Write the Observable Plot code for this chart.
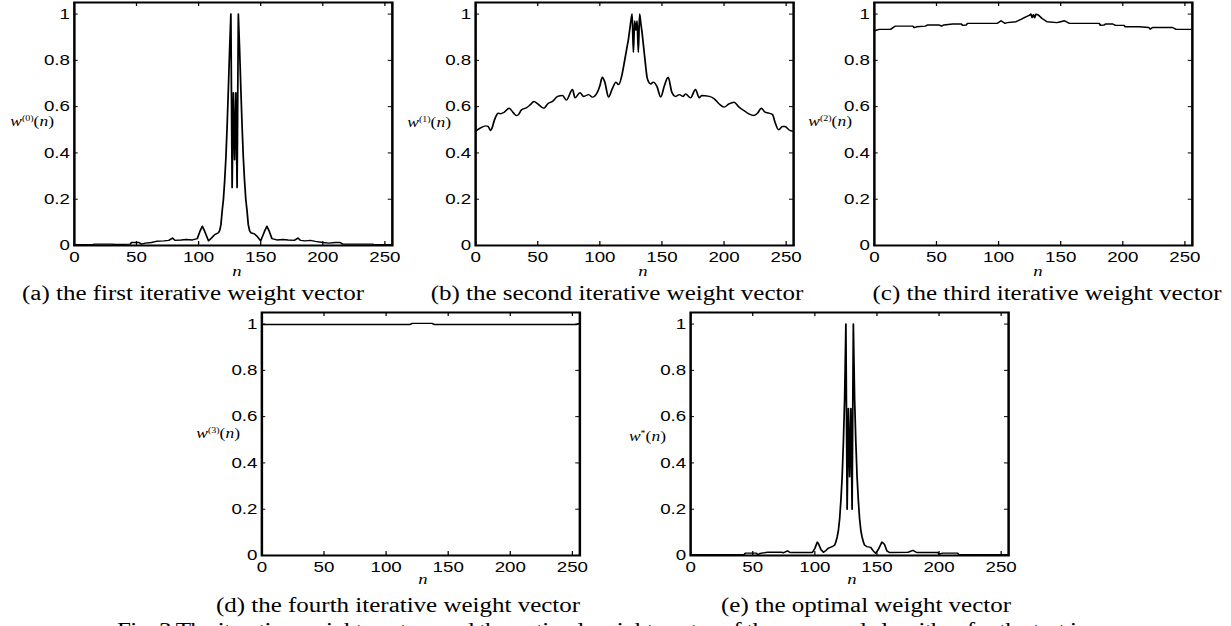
<!DOCTYPE html>
<html><head><meta charset="utf-8">
<script src="https://cdn.jsdelivr.net/npm/d3@7"></script>
<script src="https://cdn.jsdelivr.net/npm/@observablehq/plot@0.6"></script>
<style>
html,body{margin:0;padding:0;background:#fff;overflow:hidden;}
#page{position:relative;width:1231px;height:626px;overflow:hidden;background:#fff;}
#wrap{position:absolute;left:0;top:0;width:985px;height:626px;transform:scaleX(1.25);transform-origin:0 0;}
</style></head><body>
<div id="page"><div id="wrap"></div></div>
<script>
// ---- tick labels / domains ----
const nTicks = [0, 50, 100, 150, 200, 250];
const wTicks = [0, 0.2, 0.4, 0.6, 0.8, 1];
const nDomain = [0, 256];
const wDomain = [0, 1.05];

// ---- (a) w^(0)(n) ----
const a_n = [0,15,16,30,33,45,46,52,54,57,62,66,72,76,79,81,86,90,95,99,101,103,105,108,110,113,116,117,118,119,120,121,122,123,124,125,126,127,128,129,130,131,132,133,134,135,136,137,138,139,140,141,142,145,147,150,153,155,157,159,163,168,172,177,180,182,186,190,194,200,205,210,214,216,225,240,242,255];
const a_w = [0.003,0.003,0.006,0.006,0.004,0.006,0.013,0.013,0.006,0.01,0.013,0.018,0.02,0.022,0.032,0.022,0.024,0.026,0.024,0.03,0.06,0.083,0.06,0.02,0.03,0.047,0.055,0.065,0.09,0.15,0.2,0.28,0.38,0.52,0.68,0.85,1,0.25,0.66,0.37,0.66,0.25,1,0.85,0.68,0.52,0.38,0.28,0.2,0.15,0.09,0.065,0.055,0.05,0.04,0.02,0.06,0.083,0.06,0.03,0.024,0.026,0.024,0.022,0.032,0.022,0.02,0.022,0.018,0.013,0.01,0.013,0.013,0.006,0.006,0.006,0.003,0.003];

// ---- (b) w^(1)(n) ----
const b_n = [0,4,8,10,12,13,15,17,18,20,23,27,30,33,35,37,41,44,47,50,55,58,62,66,70,73,78,80,84,87,91,94,98,100,102,104,107,110,113,115,118,119,120,121,122,123,124,125,126,127,128,129,130,131,132,133,134,135,136,137,138,139,141,143,146,149,152,155,158,161,164,167,169,173,177,180,182,188,192,196,200,204,208,212,216,220,224,227,230,233,236,239,241,244,247,249,253,255];
const b_w = [0.494,0.508,0.517,0.515,0.497,0.504,0.54,0.565,0.572,0.569,0.576,0.593,0.576,0.561,0.569,0.587,0.595,0.608,0.622,0.612,0.593,0.612,0.623,0.644,0.648,0.628,0.674,0.638,0.66,0.644,0.652,0.641,0.662,0.69,0.727,0.706,0.641,0.677,0.706,0.695,0.742,0.77,0.8,0.83,0.86,0.89,0.93,0.97,1,0.835,0.97,0.93,0.97,0.835,1,0.96,0.92,0.87,0.82,0.77,0.727,0.71,0.698,0.706,0.687,0.641,0.691,0.727,0.662,0.644,0.652,0.644,0.655,0.638,0.674,0.638,0.648,0.644,0.634,0.612,0.598,0.612,0.619,0.598,0.583,0.569,0.562,0.572,0.593,0.576,0.572,0.566,0.533,0.5,0.514,0.514,0.497,0.494];

// ---- (c) w^(2)(n) ----
const c_n = [0,4,13,16,17,31,32,34,41,43,52,54,56,63,70,71,74,75,99,102,105,107,114,118,122,125,126,127,128,129,130,131,132,135,139,147,150,153,157,181,182,185,186,192,194,201,202,213,221,222,224,240,243,255];
const c_w = [0.928,0.934,0.934,0.945,0.948,0.948,0.941,0.945,0.948,0.953,0.953,0.948,0.953,0.957,0.957,0.951,0.953,0.96,0.96,0.971,0.96,0.963,0.967,0.977,0.988,0.995,1,0.985,0.997,0.984,0.999,0.998,0.996,0.981,0.967,0.963,0.967,0.971,0.96,0.96,0.951,0.953,0.957,0.957,0.951,0.951,0.945,0.945,0.942,0.935,0.942,0.942,0.934,0.934];

// ---- (d) w^(3)(n) ----
const d_n = [0,119,121,137,139,253,255];
const d_w = [0.998,0.998,1.003,1.003,0.998,0.998,1.002];

// ---- (e) w*(n) ----
const e_n = [0,43,44,53,54,56,62,73,75,78,80,98,100,102,103,105,107,109,111,114,116,117,118,119,120,121,122,123,124,125,126,127,128,129,130,131,132,133,134,135,136,137,138,139,140,142,145,147,149,151,154,156,158,160,175,179,182,199,200,203,215,216,255];
const e_w = [0.003,0.003,0.01,0.01,0.003,0.009,0.014,0.014,0.012,0.02,0.013,0.013,0.03,0.058,0.05,0.025,0.014,0.022,0.032,0.038,0.045,0.06,0.08,0.11,0.16,0.24,0.34,0.49,0.68,1,0.2,0.635,0.34,0.635,0.2,1,0.68,0.49,0.34,0.24,0.16,0.11,0.08,0.06,0.045,0.038,0.035,0.02,0.01,0.025,0.058,0.049,0.02,0.013,0.014,0.022,0.013,0.013,0.006,0.01,0.01,0.003,0.003];

// ---- texts ----
const superscripts = ["(0)", "(1)", "(2)", "(3)", "*"];
const captions = [
  "(a) the first iterative weight vector",
  "(b) the second iterative weight vector",
  "(c) the third iterative weight vector",
  "(d) the fourth iterative weight vector",
  "(e) the optimal weight vector"
];
const figCaption = "Fig. 3 The iterative weight vectors and the optimal weight vector of the proposed algorithm for the test image";

// ---- layout (inner coordinates; page is stretched horizontally by S) ----
const S = 1.25;
const wrap = document.getElementById("wrap");
const FW = 318 / S, FH = 243;
const panels = [
  {n: a_n, w: a_w, left: 73.3 / S, top: 1.5, curve: "linear"},
  {n: b_n, w: b_w, left: 475 / S, top: 1.5, curve: "monotone-x"},
  {n: c_n, w: c_w, left: 874.3 / S, top: 1.5, curve: "linear"},
  {n: d_n, w: d_w, left: 261 / S, top: 312.3, curve: "linear"},
  {n: e_n, w: e_w, left: 690 / S, top: 312.3, curve: "linear"}
];

function panel(p) {
  const mL = 45, mR = 8, mT = 6, mB = 30;
  const data = p.n.map((n, i) => ({n, w: p.w[i]}));
  const chart = Plot.plot({
    width: mL + FW + mR, height: mT + FH + mB,
    marginLeft: mL, marginRight: mR, marginTop: mT, marginBottom: mB,
    style: {fontFamily: '"Liberation Sans", Arial, sans-serif', fontSize: "15px", color: "#000", background: "transparent", overflow: "visible"},
    x: {domain: nDomain, label: null},
    y: {domain: wDomain, label: null},
    marks: [
      Plot.line(data, {x: "n", y: "w", stroke: "#000", strokeWidth: 1.4, curve: p.curve}),
      Plot.tickX(nTicks, {x: d => d, insetTop: FH - 4, stroke: "#000", strokeWidth: 1}),
      Plot.tickX(nTicks, {x: d => d, insetBottom: FH - 4, stroke: "#000", strokeWidth: 1}),
      Plot.tickY(wTicks, {y: d => d, insetRight: FW - 3.2, stroke: "#000", strokeWidth: 1}),
      Plot.tickY(wTicks, {y: d => d, insetLeft: FW - 3.2, stroke: "#000", strokeWidth: 1}),
      Plot.frame({stroke: "#000", strokeWidth: 2}),
      Plot.axisX({ticks: nTicks, anchor: "bottom", tickSize: 0, tickPadding: 6, label: null, tickFormat: d => `${d}`, fontSize: 15}),
      Plot.axisY({ticks: wTicks, anchor: "left", tickSize: 0, tickPadding: 3.5, label: null, tickFormat: d => `${d}`, fontSize: 15})
    ]
  });
  chart.style.position = "absolute";
  chart.style.left = (p.left - mL) + "px";
  chart.style.top = (p.top - mT) + "px";
  wrap.appendChild(chart);
}
panels.forEach(panel);

// ---- overlay texts ----
const ov = d3.select(wrap).append("svg")
  .attr("width", 985).attr("height", 626)
  .style("position", "absolute").style("left", "0px").style("top", "0px")
  .style("font-family", '"Liberation Serif", "Times New Roman", serif')
  .style("overflow", "hidden");

const yLab = [
  {x: 54, y: 126}, {x: 451, y: 127}, {x: 852, y: 126}, {x: 240, y: 438}, {x: 666, y: 441}
];
yLab.forEach((p, i) => {
  const t = ov.append("text").attr("x", p.x / S).attr("y", p.y).attr("text-anchor", "end").attr("font-size", 14).attr("fill", "#000");
  t.append("tspan").attr("font-style", "italic").text("w");
  t.append("tspan").attr("font-size", 8).attr("dy", -5).text(superscripts[i]);
  t.append("tspan").attr("dy", 5).text("(");
  t.append("tspan").attr("font-style", "italic").text("n");
  t.append("tspan").text(")");
});

const xLab = [
  {x: 237, y: 276}, {x: 643, y: 276}, {x: 1038, y: 276}, {x: 423, y: 584}, {x: 852, y: 584}
];
xLab.forEach(p => {
  ov.append("text").attr("x", p.x / S).attr("y", p.y).attr("text-anchor", "middle")
    .attr("font-size", 15).attr("font-style", "italic").attr("fill", "#000").text("n");
});

const capPos = [
  {x: 193, y: 300}, {x: 617, y: 300}, {x: 1047, y: 300}, {x: 398, y: 612}, {x: 866, y: 612}
];
capPos.forEach((p, i) => {
  ov.append("text").attr("x", p.x / S).attr("y", p.y).attr("text-anchor", "middle")
    .attr("font-size", 20).attr("fill", "#000").text(captions[i]);
});

ov.append("text").attr("x", 117 / S).attr("y", 637).attr("font-size", 20).attr("fill", "#000")
  .attr("textLength", (1128 - 117) / S).attr("lengthAdjust", "spacing").text(figCaption);
</script>
</body></html>
